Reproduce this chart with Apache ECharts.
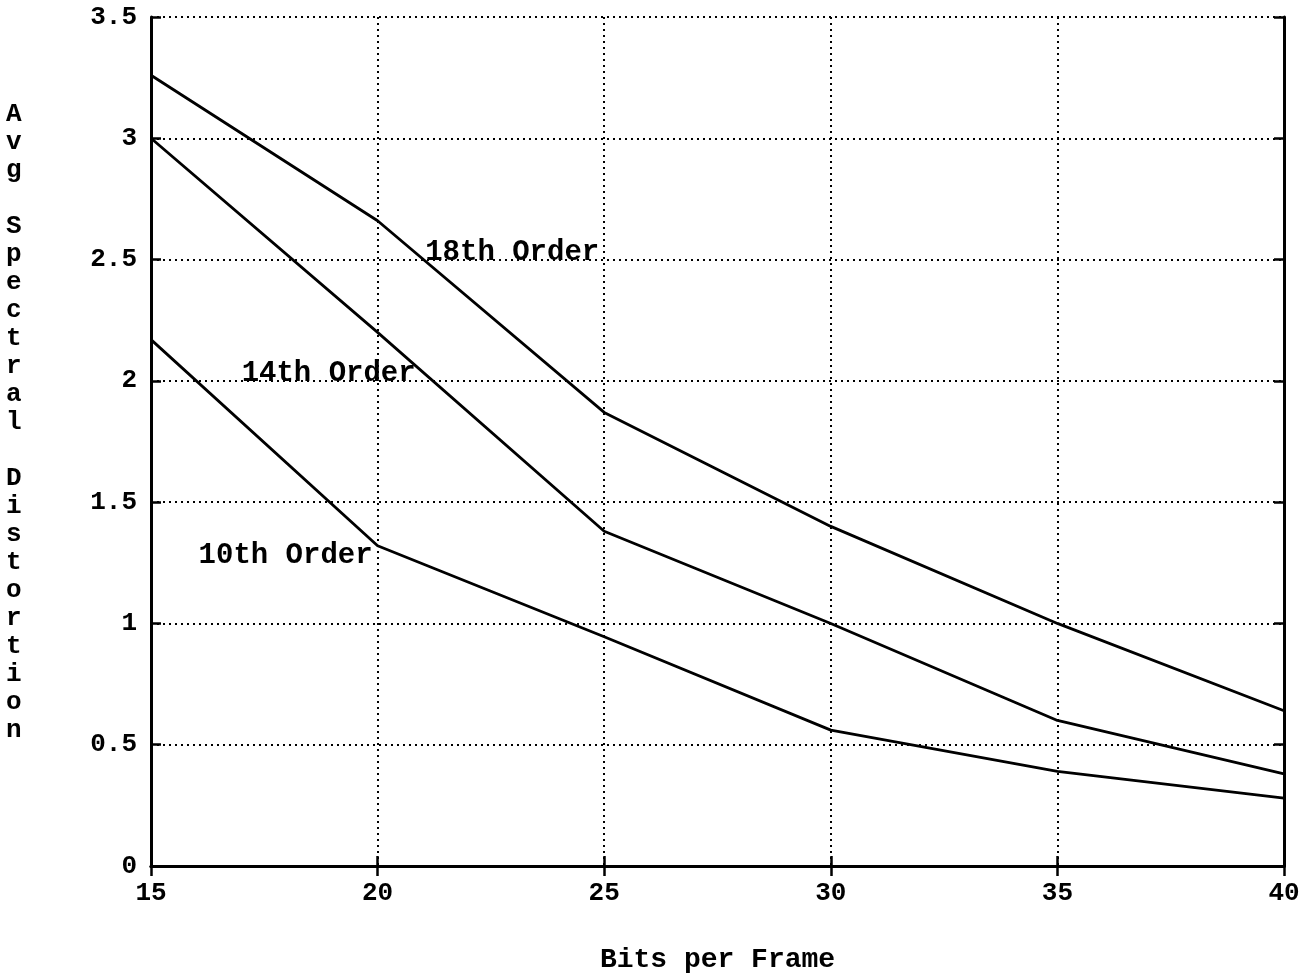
<!DOCTYPE html>
<html>
<head>
<meta charset="utf-8">
<script src="https://cdn.jsdelivr.net/npm/echarts@6/dist/echarts.min.js"></script>
<style>
html,body{margin:0;padding:0;background:#fff;overflow:hidden;}
#chart{position:absolute;left:0;top:0;width:1315px;height:974px;}
</style>
</head>
<body>
<div id="chart"></div>
<script>
// ---- data ----
const bitsPerFrame = [15, 20, 25, 30, 35, 40];
const order18 = [3.26, 2.66, 1.87, 1.40, 1.00, 0.64];
const order14 = [3.00, 2.20, 1.38, 1.00, 0.60, 0.38];
const order10 = [2.17, 1.32, 0.945, 0.56, 0.39, 0.28];
const seriesNames = ['18th Order', '14th Order', '10th Order'];
// label anchor points in data coordinates (left edge of text)
const labelAnchors = [[21.05, 2.53], [17.0, 2.03], [16.05, 1.28]];
const xAxisTitle = 'Bits per Frame';
const yAxisTitle = 'Avg Spectral Distortion';

const FONT = '"Liberation Mono", "DejaVu Sans Mono", monospace';
const chart = echarts.init(document.getElementById('chart'), null, {renderer: 'canvas', width: 1315, height: 974});

function pairs(ys) { return bitsPerFrame.map((x, i) => [x, ys[i]]); }
const allSeries = [order18, order14, order10];

const gridLine = {show: true, lineStyle: {color: '#000', width: 2, type: [2, 4]}};
const axisLine = {show: true, lineStyle: {color: '#000', width: 3}};
const ticksIn = {show: true, inside: true, length: 10, lineStyle: {color: '#000', width: 2.5}};

const option = {
  backgroundColor: '#fff',
  animation: false,
  grid: {left: 151, right: 31, top: 17, bottom: 108, containLabel: false, outerBoundsMode: 'none'},
  xAxis: [{
    type: 'value', min: 15, max: 40, interval: 5,
    axisLine: axisLine, axisTick: ticksIn, splitLine: gridLine,
    axisLabel: {color: '#000', fontFamily: FONT, fontWeight: 'bold', fontSize: 26, margin: 14},
    name: xAxisTitle, nameLocation: 'middle', nameGap: 80,
    nameTextStyle: {color: '#000', fontFamily: FONT, fontWeight: 'bold', fontSize: 28}
  }, {
    type: 'value', position: 'top', min: 15, max: 40, interval: 5,
    axisLine: axisLine, axisTick: ticksIn, splitLine: {show: false}, axisLabel: {show: false}
  }],
  yAxis: [{
    type: 'value', min: 0, max: 3.5, interval: 0.5,
    axisLine: axisLine, axisTick: ticksIn, splitLine: gridLine,
    axisLabel: {color: '#000', fontFamily: FONT, fontWeight: 'bold', fontSize: 26, margin: 14}
  }, {
    type: 'value', position: 'right', min: 0, max: 3.5, interval: 0.5,
    axisLine: axisLine, axisTick: ticksIn, splitLine: {show: false}, axisLabel: {show: false}
  }],
  series: allSeries.map((ys, i) => ({
    name: seriesNames[i],
    type: 'line',
    data: pairs(ys),
    showSymbol: false,
    symbol: 'none',
    lineStyle: {color: '#000', width: 2.8},
    markPoint: {
      symbol: 'circle', symbolSize: 0,
      data: [{coord: labelAnchors[i], value: seriesNames[i]}],
      label: {
        show: true, position: 'right', distance: 0, formatter: seriesNames[i],
        color: '#000', fontFamily: FONT, fontWeight: 'bold', fontSize: 29
      }
    }
  })),
  graphic: [{
    type: 'text', left: 6, top: 100,
    style: {
      text: yAxisTitle.split('').join('\n'),
      fill: '#000', font: 'bold 26px ' + FONT,
      lineHeight: 28, align: 'center'
    }
  }]
};
chart.setOption(option);
</script>
</body>
</html>
